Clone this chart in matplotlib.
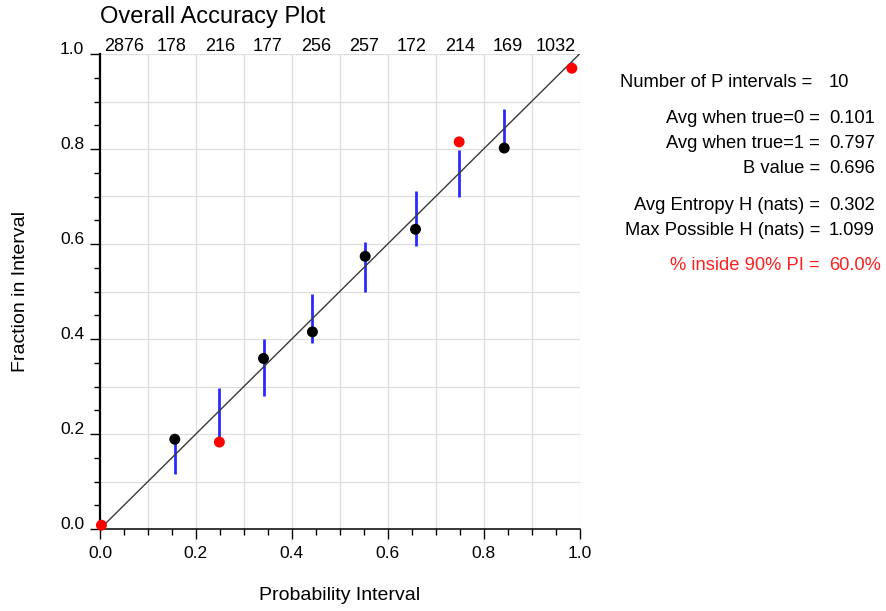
import matplotlib
matplotlib.use("Agg")
import matplotlib.pyplot as plt
from matplotlib.ticker import MultipleLocator
import numpy as np

plt.rcParams['font.family'] = ['Liberation Sans', 'DejaVu Sans']

# bin results
p_mean = [0.003, 0.156, 0.249, 0.341, 0.443, 0.553, 0.658, 0.749, 0.843, 0.984]
frac = [0.008, 0.189, 0.183, 0.359, 0.415, 0.574, 0.631, 0.815, 0.802, 0.970]
pi_lo = [0.000, 0.116, 0.194, 0.281, 0.392, 0.500, 0.596, 0.700, 0.796, 0.962]
pi_hi = [0.015, 0.195, 0.297, 0.399, 0.494, 0.604, 0.712, 0.798, 0.884, 0.984]
inside = [False, True, False, True, True, True, True, False, True, False]
counts = [2876, 178, 216, 177, 256, 257, 172, 214, 169, 1032]

stat_labels = ["Avg when true=0 =", "Avg when true=1 =", "B value =",
               "Avg Entropy H (nats) =", "Max Possible H (nats) ="]
stat_values = ["0.101", "0.797", "0.696", "0.302", "1.099"]

W, H = 886, 611
fig = plt.figure(figsize=(W / 100, H / 100), dpi=100, facecolor='w')
ax = fig.add_axes([100 / W, 1 - 529 / H, 479.5 / W, 475 / H])

def px(x, y):
    return x / W, 1 - y / H

# grid every 0.1
for g in np.arange(0.1, 1.01, 0.1):
    ax.axvline(g, color='#dedede', lw=0.9, zorder=0)
    ax.axhline(g, color='#dedede', lw=0.9, zorder=0)

ax.vlines(p_mean, pi_lo, pi_hi, colors='#2a2aff', lw=2.0, zorder=2)
ax.plot([0, 1], [0, 1], color='#3a3a3a', lw=1.0, zorder=3)
cols = ['black' if f else '#ff0000' for f in inside]
ax.scatter(p_mean, frac, s=62, c=cols, zorder=4, clip_on=False, linewidths=0)

ax.set_xlim(0, 1)
ax.set_ylim(0, 1)
ax.spines['top'].set_visible(False)
ax.spines['right'].set_visible(False)
ax.spines['left'].set_linewidth(1.6)
ax.spines['bottom'].set_linewidth(1.1)

ax.xaxis.set_major_locator(MultipleLocator(0.2))
ax.xaxis.set_minor_locator(MultipleLocator(0.05))
ax.yaxis.set_major_locator(MultipleLocator(0.2))
ax.yaxis.set_minor_locator(MultipleLocator(0.05))
ax.xaxis.set_major_formatter(lambda v, p: '%.1f' % v)
ax.yaxis.set_major_formatter(lambda v, p: '%.1f' % v)
ax.tick_params(which='major', length=7.5, width=1.0, labelsize=12.5, direction='out')
ax.tick_params(which='minor', length=4.5, width=1.0, direction='out')
ax.tick_params(axis='x', pad=5)
ax.tick_params(axis='y', pad=4)
for lbl in ax.get_yticklabels():
    lbl.set_va('baseline')

# sample counts per bin along the top
centers = (np.arange(len(counts)) + 0.5) / len(counts)
for c, n in zip(centers, counts):
    ax.text(c, 1.006, str(n), ha='center', va='baseline', fontsize=13,
            transform=ax.get_xaxis_transform())

fig.text(*px(100, 22.7), "Overall Accuracy Plot", fontsize=17, ha='left', va='baseline')
ax.set_xlabel("Probability Interval", fontsize=14)
ax.xaxis.set_label_coords(0.5, -0.122)
ax.set_ylabel("Fraction in Interval", fontsize=14)
ax.yaxis.set_label_coords(-0.148, 0.5)

# stats panel
fs = 13.2
fig.text(*px(812, 87.3), "Number of P intervals =", fontsize=fs, ha='right', va='baseline')
fig.text(*px(829, 87.3), "10", fontsize=fs, ha='left', va='baseline')
rows_y = [123.3, 148.3, 173.3, 210, 235]
for yy, lab, val in zip(rows_y, stat_labels, stat_values):
    fig.text(*px(820, yy), lab, fontsize=fs, ha='right', va='baseline')
    fig.text(*px(829, yy), val, fontsize=fs, ha='left', va='baseline')
pct = 100.0 * sum(inside) / len(inside)
fig.text(*px(820, 270), "% inside 90% PI =", fontsize=fs, ha='right', va='baseline', color='#ff2020')
fig.text(*px(829, 270), "%.1f%%" % pct, fontsize=fs, ha='left', va='baseline', color='#ff2020')

fig.savefig("out.png", dpi=100)
